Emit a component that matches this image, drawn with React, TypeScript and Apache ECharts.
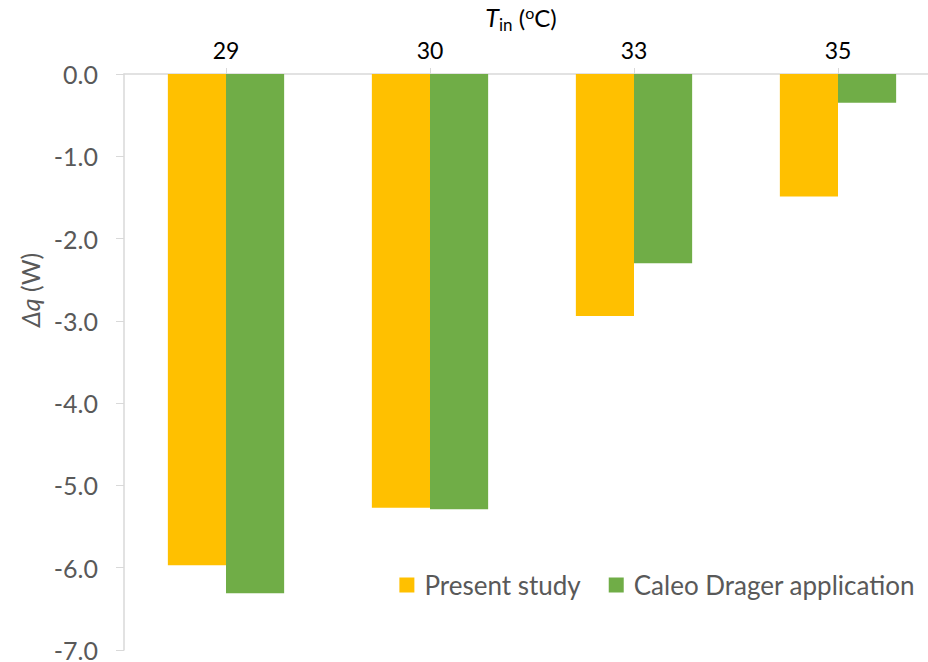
import React, { useEffect, useRef } from "react";
import * as echarts from "echarts";

const categories = ["29", "30", "33", "35"];
const presentStudy = [-5.97, -5.27, -2.94, -1.49];
const caleoDrager = [-6.31, -5.29, -2.3, -0.35];
const seriesNames = ["Present study", "Caleo Drager application"];
const yMin = -7;
const yMax = 0;
const yInterval = 1;

const FONT = "Lato, 'Liberation Sans', sans-serif";

export default function App() {
  const ref = useRef<HTMLDivElement>(null);
  useEffect(() => {
    document.body.style.margin = "0";
    const chart = echarts.init(ref.current!, null, { renderer: "svg" });
    chart.setOption({
      animation: false,
      backgroundColor: "#ffffff",
      textStyle: { fontFamily: FONT },
      grid: {
        left: 124,
        top: 74,
        bottom: 12,
        right: -12,
        containLabel: false,
        outerBoundsMode: "none",
      },
      legend: {
        right: 8,
        top: 567,
        itemWidth: 15,
        itemHeight: 15,
        itemGap: 28,
        icon: "rect",
        textStyle: { fontSize: 26, color: "#595959", fontFamily: FONT, padding: [0, 0, 0, 5] },
        data: seriesNames,
      },
      xAxis: {
        type: "category",
        position: "top",
        data: categories,
        name: "{i|T}{sub|in} ({sup|o}C)",
        nameLocation: "middle",
        nameGap: 40,
        nameTextStyle: {
          fontSize: 24,
          color: "#000000",
          fontFamily: FONT,
          padding: [0, 22, 0, 0],
          rich: {
            i: { fontSize: 25, fontStyle: "italic", color: "#000", fontFamily: FONT },
            sub: { fontSize: 17, color: "#000", fontFamily: FONT, padding: [15, 0, 0, 0] },
            sup: { fontSize: 16, color: "#000", fontFamily: FONT, padding: [0, 0, 10, 0] },
          },
        },
        axisLine: { show: true, onZero: false, lineStyle: { color: "#d9d9d9", width: 1.5 } },
        axisTick: { show: true, alignWithLabel: true, length: 6, lineStyle: { color: "#d9d9d9" } },
        axisLabel: { fontSize: 23, color: "#000000", margin: 13, fontFamily: FONT },
        splitLine: { show: false },
      },
      yAxis: {
        type: "value",
        min: yMin,
        max: yMax,
        interval: yInterval,
        name: "{i|Δq} (W)",
        nameLocation: "middle",
        nameGap: 80,
        nameRotate: 90,
        nameTextStyle: {
          fontSize: 25,
          color: "#595959",
          fontFamily: FONT,
          padding: [0, 0, 0, 144],
          rich: {
            i: { fontSize: 25, fontStyle: "italic", color: "#595959", fontFamily: FONT },
          },
        },
        axisLine: { show: true, lineStyle: { color: "#d9d9d9", width: 1.5 } },
        axisTick: { show: true, length: 8, lineStyle: { color: "#d9d9d9" } },
        axisLabel: {
          fontSize: 25,
          color: "#595959",
          margin: 26,
          fontFamily: FONT,
          formatter: (v: number) => v.toFixed(1),
        },
        splitLine: { show: false },
      },
      series: [
        {
          name: seriesNames[0],
          type: "bar",
          data: presentStudy,
          barGap: "0%",
          barCategoryGap: "43%",
          itemStyle: { color: "#FFC000" },
        },
        {
          name: seriesNames[1],
          type: "bar",
          data: caleoDrager,
          barGap: "0%",
          barCategoryGap: "43%",
          itemStyle: { color: "#70AD47" },
        },
      ],
    });
    return () => chart.dispose();
  }, []);
  return <div ref={ref} style={{ width: 928, height: 662 }} />;
}
